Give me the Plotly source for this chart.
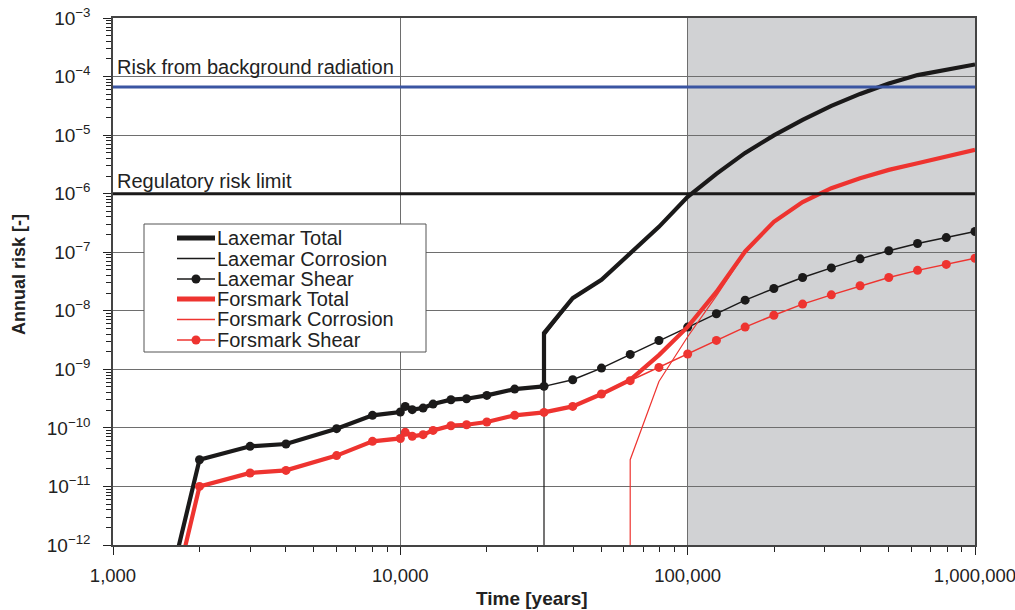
import plotly.graph_objects as go

# ---- data ----
t_lax_total = [1600, 2000, 3000, 4000, 6000, 8000, 10000, 10400, 11000, 12000, 13000, 15000, 17000,
               20000, 25000, 31623, 31623, 39811, 50119, 63096, 79433, 100000, 125893, 158489,
               199526, 251189, 316228, 398107, 501187, 630957, 794328, 1000000]
r_lax_total = [3e-13, 2.86e-11, 4.84e-11, 5.3e-11, 9.7e-11, 1.64e-10, 1.87e-10, 2.33e-10, 2.05e-10,
               2.18e-10, 2.55e-10, 3.03e-10, 3.15e-10, 3.59e-10, 4.6e-10, 5.12e-10, 4.16e-9, 1.64e-8,
               3.38e-8, 9.8e-8, 2.71e-7, 8.8e-7, 2.18e-6, 4.97e-6, 9.9e-6, 1.82e-5, 3.15e-5, 5.05e-5,
               7.6e-5, 1.06e-4, 1.32e-4, 1.61e-4]

t_lax_corr = [31623, 31623, 39811, 50119, 63096, 79433, 100000, 125893, 158489, 199526, 251189,
              316228, 398107, 501187, 630957, 794328, 1000000]
r_lax_corr = [1e-14, 3.65e-9, 1.57e-8, 3.28e-8, 9.6e-8, 2.68e-7, 8.75e-7, 2.17e-6, 4.95e-6, 9.88e-6,
              1.82e-5, 3.15e-5, 5.05e-5, 7.6e-5, 1.06e-4, 1.32e-4, 1.61e-4]

t_shear = [2000, 3000, 4000, 6000, 8000, 10000, 10400, 11000, 12000, 13000, 15000, 17000, 20000,
           25000, 31623, 39811, 50119, 63096, 79433, 100000, 125893, 158489, 199526, 251189,
           316228, 398107, 501187, 630957, 794328, 1000000]
r_lax_shear = [2.86e-11, 4.84e-11, 5.3e-11, 9.7e-11, 1.64e-10, 1.87e-10, 2.33e-10, 2.05e-10, 2.18e-10,
               2.55e-10, 3.03e-10, 3.15e-10, 3.59e-10, 4.6e-10, 5.12e-10, 6.65e-10, 1.05e-9, 1.8e-9,
               3.11e-9, 5.27e-9, 8.9e-9, 1.52e-8, 2.4e-8, 3.7e-8, 5.4e-8, 7.7e-8, 1.06e-7, 1.41e-7,
               1.78e-7, 2.26e-7]

t_for_total = [1600, 2000, 3000, 4000, 6000, 8000, 10000, 10400, 11000, 12000, 13000, 15000, 17000,
               20000, 25000, 31623, 39811, 50119, 63096, 79433, 100000, 125893, 158489, 199526,
               251189, 316228, 398107, 501187, 630957, 794328, 1000000]
r_for_total = [1e-13, 1.0e-11, 1.70e-11, 1.88e-11, 3.36e-11, 5.9e-11, 6.6e-11, 8.4e-11, 7.2e-11,
               7.66e-11, 9.06e-11, 1.09e-10, 1.13e-10, 1.26e-10, 1.64e-10, 1.84e-10, 2.33e-10,
               3.79e-10, 6.6e-10, 1.75e-9, 5.3e-9, 2.1e-8, 1.03e-7, 3.3e-7, 7.2e-7, 1.24e-6,
               1.84e-6, 2.55e-6, 3.3e-6, 4.3e-6, 5.6e-6]

t_for_corr = [63096, 63096, 79433, 100000, 125893, 158489, 199526, 251189, 316228, 398107, 501187,
              630957, 794328, 1000000]
r_for_corr = [1e-14, 2.86e-11, 6.2e-10, 3.6e-9, 1.8e-8, 9.8e-8, 3.2e-7, 6.97e-7, 1.22e-6, 1.81e-6,
              2.51e-6, 3.25e-6, 4.24e-6, 5.52e-6]

r_for_shear = [1.0e-11, 1.70e-11, 1.88e-11, 3.36e-11, 5.9e-11, 6.6e-11, 8.4e-11, 7.2e-11, 7.66e-11,
               9.06e-11, 1.09e-10, 1.13e-10, 1.26e-10, 1.64e-10, 1.84e-10, 2.33e-10, 3.79e-10, 6.4e-10,
               1.08e-9, 1.83e-9, 3.12e-9, 5.26e-9, 8.4e-9, 1.3e-8, 1.87e-8, 2.67e-8, 3.7e-8, 4.9e-8,
               6.2e-8, 7.9e-8]

background_risk = 6.6e-5
regulatory_limit = 1e-6
shade_start, shade_end = 100000, 1000000

x_ticks = [1000, 10000, 100000, 1000000]
x_ticktext = ["1,000", "10,000", "100,000", "1,000,000"]
y_exps = list(range(-12, -2))

BLACK = "#1b1a1a"
RED = "#ee3430"
BLUE = "#3a55a2"
TXT = "#222222"

# page layout in pixels (body margin removed by post_script)
W, H = 1015, 610
PL, PR, PT, PB = 113, 975, 18, 545
ML, MT, MR, MB = PL, PT, W - PR, H - PB


def px_x(px):
    return (px - PL) / (PR - PL)


def px_y(py):
    return (PB - py) / (PB - PT)


series = [
    ("Laxemar Total", t_lax_total, r_lax_total, BLACK, 4.2, False),
    ("Laxemar Corrosion", t_lax_corr, r_lax_corr, BLACK, 1.2, False),
    ("Laxemar Shear", t_shear, r_lax_shear, BLACK, 1.5, True),
    ("Forsmark Total", t_for_total, r_for_total, RED, 4.2, False),
    ("Forsmark Corrosion", t_for_corr, r_for_corr, RED, 1.2, False),
    ("Forsmark Shear", t_shear, r_for_shear, RED, 1.5, True),
]

fig = go.Figure()
for name, xs, ys, col, lw, mk in series:
    fig.add_trace(go.Scatter(x=xs, y=ys, mode="lines+markers" if mk else "lines", name=name,
                             line=dict(color=col, width=lw),
                             marker=dict(size=9, color=col), showlegend=False))

fig.add_shape(type="rect", xref="x", yref="paper", x0=shade_start, x1=shade_end, y0=0, y1=1,
              fillcolor="#d1d2d4", line=dict(width=0), layer="below")
fig.add_shape(type="line", xref="paper", yref="y", x0=0, x1=1, y0=background_risk, y1=background_risk,
              line=dict(color=BLUE, width=3))
fig.add_shape(type="line", xref="paper", yref="y", x0=0, x1=1, y0=regulatory_limit, y1=regulatory_limit,
              line=dict(color=BLACK, width=3))

fig.add_annotation(text="Risk from background radiation", xref="paper", yref="y", x=0.002, y=-4,
                   xanchor="left", yanchor="bottom", showarrow=False, yshift=-3,
                   font=dict(size=20, color=TXT))
fig.add_annotation(text="Regulatory risk limit", xref="paper", yref="y", x=0.002, y=-6,
                   xanchor="left", yanchor="bottom", showarrow=False, yshift=0,
                   font=dict(size=20, color=TXT))

# axis titles
fig.add_annotation(text="<b>Time [years]</b>", xref="paper", yref="paper", x=px_x(532), y=px_y(598),
                   xanchor="center", yanchor="middle", showarrow=False, font=dict(size=19, color=TXT))
fig.add_annotation(text="<b>Annual risk [-]</b>", xref="paper", yref="paper", x=px_x(19), y=px_y(275),
                   xanchor="center", yanchor="middle", showarrow=False, textangle=-90,
                   font=dict(size=18, color=TXT))

# ---- legend box (drawn by hand for compact row spacing) ----
fig.add_shape(type="rect", xref="paper", yref="paper", x0=px_x(144), x1=px_x(426),
              y0=px_y(352), y1=px_y(224), fillcolor="white", line=dict(color="#555", width=1),
              layer="above")
row_py = [238, 258.5, 279, 299, 319.5, 340]
for (name, xs, ys, col, lw, mk), py in zip(series, row_py):
    fig.add_shape(type="line", xref="paper", yref="paper", x0=px_x(177), x1=px_x(215),
                  y0=px_y(py), y1=px_y(py), line=dict(color=col, width=lw + 0.6 if lw > 2 else lw + 0.2),
                  layer="above")
    if mk:
        fig.add_shape(type="circle", xref="paper", yref="paper", xsizemode="pixel", ysizemode="pixel",
                      xanchor=px_x(196), yanchor=px_y(py), x0=-4.5, x1=4.5, y0=-4.5, y1=4.5,
                      fillcolor=col, line=dict(color=col, width=0), layer="above")
    fig.add_annotation(text=name, xref="paper", yref="paper", x=px_x(215), y=px_y(py),
                       xanchor="left", yanchor="middle", showarrow=False,
                       font=dict(size=20, color=TXT))

minor_x = [m * 10 ** e for e in range(3, 6) for m in range(2, 10)]
minor_y = [m * 10.0 ** e for e in range(-12, -3) for m in range(2, 10)]

fig.update_xaxes(type="log", range=[3, 6], tickvals=x_ticks, ticktext=x_ticktext, automargin=False,
                 ticks="outside", ticklen=8, tickcolor=TXT, showgrid=True, gridcolor="#6e6e6e",
                 gridwidth=1.2, showline=True, mirror=True, linecolor="#444", linewidth=1.5,
                 ticklabelstandoff=5, ticklabeloverflow="allow",
                 tickfont=dict(size=18.5, color=TXT),
                 minor=dict(tickmode="array", tickvals=minor_x, ticks="outside", ticklen=5,
                            tickcolor=TXT, showgrid=False),
                 zeroline=False)
fig.update_yaxes(type="log", range=[-12, -3], tickvals=[10.0 ** e for e in y_exps], automargin=False,
                 ticktext=["10<sup>\u2212%d</sup>" % (-e) for e in y_exps],
                 ticks="outside", ticklen=8, tickcolor=TXT, showgrid=True, gridcolor="#6e6e6e",
                 gridwidth=1.2, showline=True, mirror=True, linecolor="#444", linewidth=1.5,
                 ticklabelstandoff=9, ticklabeloverflow="allow",
                 tickfont=dict(size=19, color=TXT),
                 minor=dict(tickmode="array", tickvals=minor_y, ticks="outside", ticklen=5,
                            tickcolor=TXT, showgrid=False),
                 zeroline=False)

fig.update_layout(width=W, height=H, margin=dict(l=ML, r=MR, t=MT, b=MB),
                  paper_bgcolor="white", plot_bgcolor="white",
                  font=dict(family="Liberation Sans, Arial, sans-serif", color=TXT),
                  showlegend=False)

fig.write_html("out.html", config={"displayModeBar": False},
               post_script="document.body.style.margin='0px';document.body.style.overflow='hidden';")
